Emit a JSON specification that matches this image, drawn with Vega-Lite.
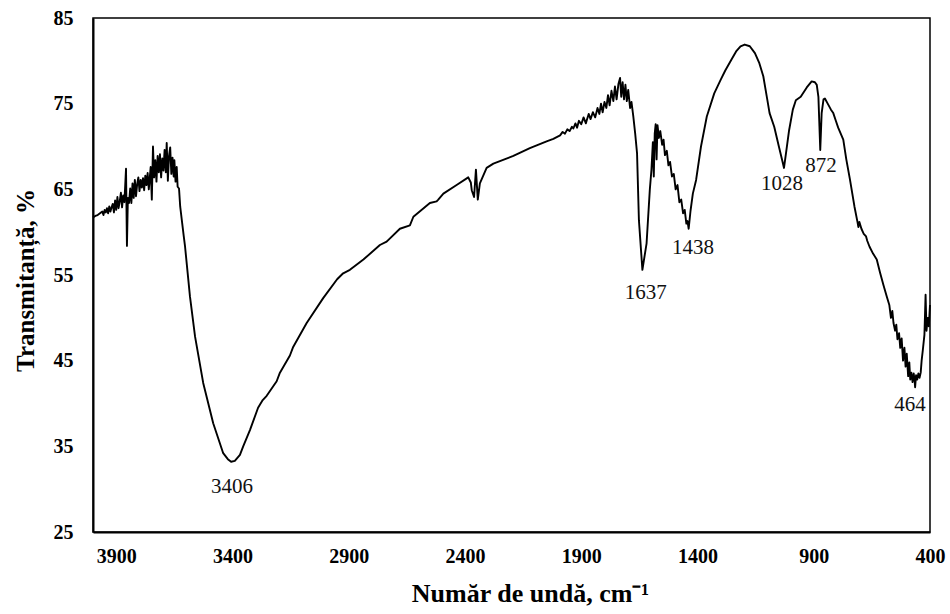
{
  "$schema": "https://vega.github.io/schema/vega-lite/v6.json",
  "width": 837,
  "height": 514,
  "autosize": "none",
  "padding": {"left": 93, "top": 18, "right": 20, "bottom": 82},
  "background": "white",
  "config": {
    "view": {"stroke": "#000", "strokeWidth": 1.5},
    "font": "Liberation Serif",
    "axis": {
      "grid": false,
      "ticks": false,
      "domainColor": "#000",
      "domainWidth": 2,
      "labelFont": "Liberation Serif",
      "labelFontWeight": "bold",
      "labelFontSize": 20,
      "labelColor": "#000",
      "labelFlush": false,
      "labelOverlap": false,
      "titleFont": "Liberation Serif",
      "titleFontWeight": "bold",
      "titleColor": "#000"
    }
  },
  "datasets": {
    "spectrum": [
      {"wn": 4000, "t": 61.7}, {"wn": 3990, "t": 61.9}, {"wn": 3980, "t": 62.0}, {"wn": 3970, "t": 62.2},
      {"wn": 3960, "t": 62.4}, {"wn": 3955, "t": 62.0}, {"wn": 3950, "t": 62.6}, {"wn": 3945, "t": 62.3},
      {"wn": 3940, "t": 62.8}, {"wn": 3935, "t": 62.2}, {"wn": 3930, "t": 63.0}, {"wn": 3925, "t": 62.4},
      {"wn": 3920, "t": 62.9}, {"wn": 3915, "t": 63.3}, {"wn": 3910, "t": 62.3}, {"wn": 3905, "t": 63.7},
      {"wn": 3900, "t": 62.6}, {"wn": 3895, "t": 64.1}, {"wn": 3890, "t": 62.8}, {"wn": 3885, "t": 63.6},
      {"wn": 3880, "t": 64.6}, {"wn": 3875, "t": 62.9}, {"wn": 3870, "t": 64.3}, {"wn": 3865, "t": 63.5},
      {"wn": 3858, "t": 67.4}, {"wn": 3854, "t": 58.4}, {"wn": 3850, "t": 64.0}, {"wn": 3845, "t": 63.4},
      {"wn": 3840, "t": 65.1}, {"wn": 3835, "t": 63.4}, {"wn": 3830, "t": 65.7}, {"wn": 3825, "t": 64.0},
      {"wn": 3820, "t": 66.1}, {"wn": 3815, "t": 64.2}, {"wn": 3810, "t": 65.6}, {"wn": 3805, "t": 66.4},
      {"wn": 3800, "t": 64.8}, {"wn": 3795, "t": 66.1}, {"wn": 3790, "t": 65.2}, {"wn": 3785, "t": 66.3},
      {"wn": 3780, "t": 64.9}, {"wn": 3775, "t": 66.6}, {"wn": 3770, "t": 65.5}, {"wn": 3765, "t": 66.9},
      {"wn": 3760, "t": 65.0}, {"wn": 3752, "t": 67.6}, {"wn": 3747, "t": 63.8}, {"wn": 3742, "t": 70.0},
      {"wn": 3737, "t": 66.4}, {"wn": 3732, "t": 68.4}, {"wn": 3727, "t": 65.9}, {"wn": 3722, "t": 68.9},
      {"wn": 3717, "t": 67.0}, {"wn": 3712, "t": 69.1}, {"wn": 3707, "t": 66.4}, {"wn": 3702, "t": 68.6},
      {"wn": 3697, "t": 67.2}, {"wn": 3692, "t": 69.6}, {"wn": 3687, "t": 67.0}, {"wn": 3683, "t": 70.4},
      {"wn": 3678, "t": 66.0}, {"wn": 3673, "t": 68.9}, {"wn": 3668, "t": 69.9}, {"wn": 3663, "t": 66.8},
      {"wn": 3658, "t": 68.7}, {"wn": 3653, "t": 66.5}, {"wn": 3650, "t": 68.4}, {"wn": 3645, "t": 65.9},
      {"wn": 3640, "t": 67.6}, {"wn": 3636, "t": 65.3}, {"wn": 3630, "t": 65.1}, {"wn": 3625, "t": 63.0},
      {"wn": 3618, "t": 61.4}, {"wn": 3610, "t": 59.6}, {"wn": 3604, "t": 58.3}, {"wn": 3583, "t": 52.5},
      {"wn": 3561, "t": 47.8}, {"wn": 3526, "t": 42.4}, {"wn": 3483, "t": 37.7}, {"wn": 3440, "t": 34.2},
      {"wn": 3420, "t": 33.5}, {"wn": 3406, "t": 33.2}, {"wn": 3390, "t": 33.3}, {"wn": 3368, "t": 34.0},
      {"wn": 3354, "t": 35.0}, {"wn": 3325, "t": 36.9}, {"wn": 3290, "t": 39.5}, {"wn": 3270, "t": 40.4},
      {"wn": 3253, "t": 40.9}, {"wn": 3210, "t": 42.6}, {"wn": 3196, "t": 43.6}, {"wn": 3153, "t": 45.6},
      {"wn": 3139, "t": 46.6}, {"wn": 3081, "t": 49.4}, {"wn": 3010, "t": 52.3}, {"wn": 2950, "t": 54.5},
      {"wn": 2924, "t": 55.2}, {"wn": 2895, "t": 55.6}, {"wn": 2837, "t": 56.8}, {"wn": 2766, "t": 58.5},
      {"wn": 2737, "t": 58.9}, {"wn": 2680, "t": 60.4}, {"wn": 2637, "t": 60.8}, {"wn": 2622, "t": 61.8},
      {"wn": 2551, "t": 63.4}, {"wn": 2522, "t": 63.6}, {"wn": 2515, "t": 63.8}, {"wn": 2493, "t": 64.5},
      {"wn": 2436, "t": 65.5}, {"wn": 2386, "t": 66.4}, {"wn": 2375, "t": 65.8}, {"wn": 2371, "t": 64.9},
      {"wn": 2361, "t": 64.1}, {"wn": 2353, "t": 67.3}, {"wn": 2345, "t": 63.8}, {"wn": 2336, "t": 65.7},
      {"wn": 2307, "t": 67.5}, {"wn": 2278, "t": 68.0}, {"wn": 2192, "t": 68.9}, {"wn": 2121, "t": 69.8},
      {"wn": 2049, "t": 70.6}, {"wn": 2020, "t": 70.9}, {"wn": 1991, "t": 71.3}, {"wn": 1980, "t": 71.7},
      {"wn": 1970, "t": 71.5}, {"wn": 1960, "t": 72.0}, {"wn": 1950, "t": 71.8}, {"wn": 1940, "t": 72.3},
      {"wn": 1934, "t": 72.1}, {"wn": 1925, "t": 72.7}, {"wn": 1918, "t": 72.2}, {"wn": 1910, "t": 73.0},
      {"wn": 1900, "t": 72.6}, {"wn": 1890, "t": 73.4}, {"wn": 1880, "t": 72.7}, {"wn": 1876, "t": 73.1},
      {"wn": 1868, "t": 73.8}, {"wn": 1860, "t": 73.2}, {"wn": 1850, "t": 74.0}, {"wn": 1840, "t": 73.4},
      {"wn": 1830, "t": 74.5}, {"wn": 1822, "t": 73.8}, {"wn": 1815, "t": 75.0}, {"wn": 1808, "t": 74.0},
      {"wn": 1800, "t": 75.2}, {"wn": 1792, "t": 74.5}, {"wn": 1785, "t": 76.0}, {"wn": 1778, "t": 74.8},
      {"wn": 1770, "t": 76.5}, {"wn": 1762, "t": 75.3}, {"wn": 1755, "t": 77.0}, {"wn": 1748, "t": 75.5},
      {"wn": 1740, "t": 77.3}, {"wn": 1733, "t": 78.0}, {"wn": 1728, "t": 75.8}, {"wn": 1722, "t": 77.5},
      {"wn": 1716, "t": 75.5}, {"wn": 1710, "t": 77.2}, {"wn": 1704, "t": 75.3}, {"wn": 1698, "t": 76.6},
      {"wn": 1690, "t": 74.5}, {"wn": 1684, "t": 75.2}, {"wn": 1676, "t": 73.5}, {"wn": 1668, "t": 71.5},
      {"wn": 1660, "t": 69.2}, {"wn": 1652, "t": 61.4}, {"wn": 1637, "t": 55.6}, {"wn": 1619, "t": 58.7},
      {"wn": 1605, "t": 65.0}, {"wn": 1598, "t": 67.3}, {"wn": 1592, "t": 70.5}, {"wn": 1588, "t": 66.5},
      {"wn": 1584, "t": 71.5}, {"wn": 1580, "t": 72.6}, {"wn": 1576, "t": 68.5}, {"wn": 1572, "t": 72.5},
      {"wn": 1566, "t": 71.0}, {"wn": 1560, "t": 71.8}, {"wn": 1552, "t": 70.2}, {"wn": 1546, "t": 70.8},
      {"wn": 1540, "t": 69.0}, {"wn": 1532, "t": 69.5}, {"wn": 1525, "t": 67.8}, {"wn": 1518, "t": 68.2},
      {"wn": 1510, "t": 66.5}, {"wn": 1502, "t": 66.8}, {"wn": 1494, "t": 65.0}, {"wn": 1486, "t": 65.5},
      {"wn": 1478, "t": 63.5}, {"wn": 1470, "t": 63.8}, {"wn": 1462, "t": 62.2}, {"wn": 1455, "t": 62.6},
      {"wn": 1448, "t": 61.0}, {"wn": 1443, "t": 61.3}, {"wn": 1438, "t": 60.4}, {"wn": 1430, "t": 62.5},
      {"wn": 1420, "t": 64.5}, {"wn": 1406, "t": 66.1}, {"wn": 1385, "t": 70.0}, {"wn": 1360, "t": 73.5},
      {"wn": 1328, "t": 76.2}, {"wn": 1300, "t": 77.8}, {"wn": 1280, "t": 78.9}, {"wn": 1255, "t": 80.1},
      {"wn": 1234, "t": 81.1}, {"wn": 1215, "t": 81.7}, {"wn": 1197, "t": 81.9}, {"wn": 1175, "t": 81.7},
      {"wn": 1153, "t": 80.9}, {"wn": 1135, "t": 79.8}, {"wn": 1117, "t": 78.2}, {"wn": 1100, "t": 75.5},
      {"wn": 1090, "t": 73.9}, {"wn": 1070, "t": 72.3}, {"wn": 1050, "t": 70.0}, {"wn": 1035, "t": 68.3},
      {"wn": 1028, "t": 67.5}, {"wn": 1018, "t": 69.5}, {"wn": 1006, "t": 71.9}, {"wn": 990, "t": 74.3},
      {"wn": 977, "t": 75.4}, {"wn": 956, "t": 75.8}, {"wn": 930, "t": 76.9}, {"wn": 909, "t": 77.6},
      {"wn": 895, "t": 77.5}, {"wn": 887, "t": 77.2}, {"wn": 880, "t": 75.8},
      {"wn": 872, "t": 69.6}, {"wn": 866, "t": 73.9}, {"wn": 858, "t": 75.5}, {"wn": 852, "t": 75.6},
      {"wn": 840, "t": 75.0}, {"wn": 826, "t": 74.3}, {"wn": 816, "t": 73.9}, {"wn": 805, "t": 73.0},
      {"wn": 795, "t": 72.2}, {"wn": 773, "t": 70.8}, {"wn": 760, "t": 68.5}, {"wn": 744, "t": 66.1},
      {"wn": 725, "t": 63.0}, {"wn": 712, "t": 61.2}, {"wn": 708, "t": 60.6}, {"wn": 704, "t": 61.2},
      {"wn": 695, "t": 60.4}, {"wn": 685, "t": 59.8}, {"wn": 675, "t": 59.5}, {"wn": 670, "t": 59.0},
      {"wn": 660, "t": 58.3}, {"wn": 645, "t": 57.5}, {"wn": 629, "t": 56.8}, {"wn": 615, "t": 55.3},
      {"wn": 600, "t": 53.8}, {"wn": 586, "t": 52.5}, {"wn": 575, "t": 51.5}, {"wn": 568, "t": 50.0},
      {"wn": 562, "t": 50.8}, {"wn": 557, "t": 49.4}, {"wn": 550, "t": 48.5}, {"wn": 545, "t": 49.2},
      {"wn": 540, "t": 47.5}, {"wn": 533, "t": 48.2}, {"wn": 528, "t": 46.5}, {"wn": 522, "t": 47.6},
      {"wn": 516, "t": 45.0}, {"wn": 510, "t": 46.5}, {"wn": 505, "t": 44.3}, {"wn": 500, "t": 45.8},
      {"wn": 494, "t": 43.2}, {"wn": 489, "t": 44.8}, {"wn": 485, "t": 42.8}, {"wn": 480, "t": 43.6},
      {"wn": 475, "t": 42.5}, {"wn": 470, "t": 43.5}, {"wn": 466, "t": 42.6}, {"wn": 464, "t": 41.9},
      {"wn": 460, "t": 43.3}, {"wn": 455, "t": 42.8}, {"wn": 450, "t": 43.5}, {"wn": 445, "t": 43.0},
      {"wn": 440, "t": 43.6}, {"wn": 436, "t": 45.0}, {"wn": 431, "t": 46.2}, {"wn": 424, "t": 48.0},
      {"wn": 419, "t": 52.7}, {"wn": 415, "t": 48.5}, {"wn": 410, "t": 50.0}, {"wn": 405, "t": 49.0},
      {"wn": 400, "t": 51.5}
    ],
    "bands": [
      {"label": "3406", "lx": 3402, "ly": 30.3},
      {"label": "1637", "lx": 1623, "ly": 52.9},
      {"label": "1438", "lx": 1419, "ly": 58.15},
      {"label": "1028", "lx": 1037, "ly": 65.6},
      {"label": "872", "lx": 869, "ly": 67.7},
      {"label": "464", "lx": 486, "ly": 39.8}
    ]
  },
  "layer": [
    {
      "data": {"name": "spectrum"},
      "mark": {"type": "line", "color": "#000", "strokeWidth": 1.9, "strokeJoin": "round"},
      "encoding": {
        "x": {
          "field": "wn",
          "type": "quantitative",
          "scale": {"domain": [400, 4000], "reverse": true, "nice": false, "zero": false},
          "axis": {
            "title": "Număr de undă, cm⁻¹",
            "format": "d",
            "values": [3900, 3400, 2900, 2400, 1900, 1400, 900, 400],
            "labelPadding": 14,
            "titleFontSize": 26,
            "titleX": 437,
            "titleAlign": "center",
            "titlePadding": 14
          }
        },
        "y": {
          "field": "t",
          "type": "quantitative",
          "scale": {"domain": [25, 85], "nice": false, "zero": false},
          "axis": {
            "title": "Transmitanță, %",
            "format": "d",
            "values": [25, 35, 45, 55, 65, 75, 85],
            "labelPadding": 20,
            "titleFontSize": 25,
            "titleY": 262,
            "titleAlign": "center",
            "titlePadding": 15
          }
        }
      }
    },
    {
      "data": {"name": "bands"},
      "mark": {"type": "text", "font": "Liberation Serif", "fontSize": 21, "color": "#111", "baseline": "middle", "align": "center"},
      "encoding": {
        "x": {"field": "lx", "type": "quantitative"},
        "y": {"field": "ly", "type": "quantitative"},
        "text": {"field": "label"}
      }
    }
  ]
}
